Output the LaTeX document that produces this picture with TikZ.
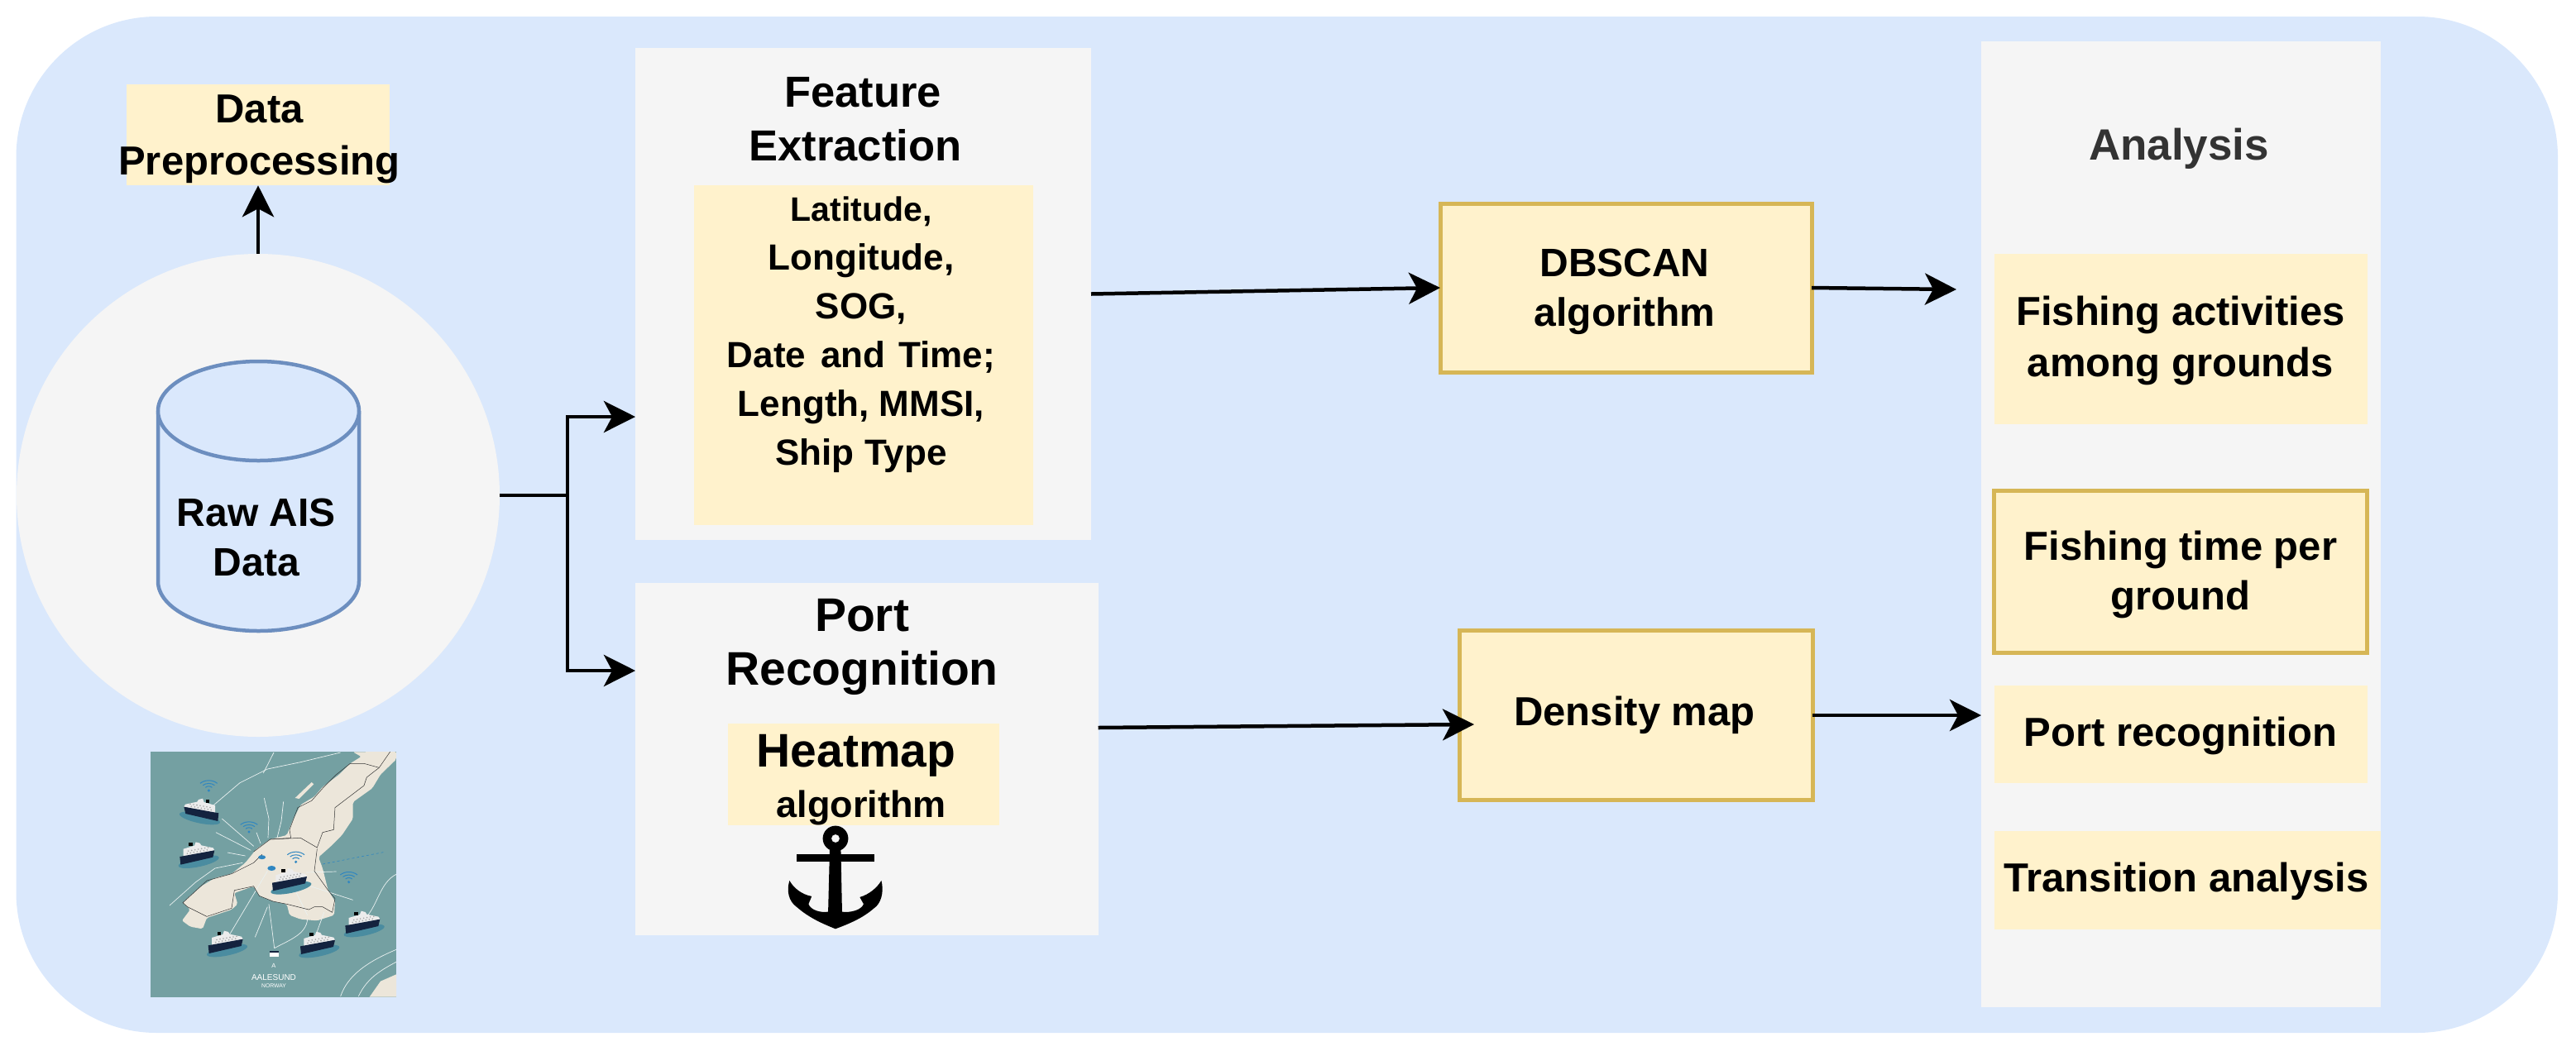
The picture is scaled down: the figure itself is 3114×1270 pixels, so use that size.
\documentclass[tikz,border=0pt]{standalone}
\usepackage{fontspec}
\setmainfont{Liberation Sans}
\usetikzlibrary{arrows.meta}
\definecolor{sheet}{HTML}{DAE8FC}
\definecolor{panelgrey}{HTML}{F5F5F5}
\definecolor{cream}{HTML}{FFF2CC}
\definecolor{creamedge}{HTML}{D6B656}
\definecolor{cylinderedge}{HTML}{6C8EBF}
\definecolor{seawater}{HTML}{74A0A2}
\definecolor{landfill}{HTML}{ECE6DA}
\definecolor{hullnavy}{HTML}{14233F}
\definecolor{wakeblue}{HTML}{4A8CA0}
\definecolor{signalblue}{HTML}{2F86C1}
\newcommand{\fs}[2]{\fontsize{#1}{#2}\selectfont\bfseries}

% A vessel with its wake, on the map inset
\newcommand{\vessel}[3]{%
  \begin{scope}[shift={(#1,#2)},xscale=#3]
    \fill[wakeblue,rotate=12] (0,27) ellipse [x radius=25pt,y radius=6pt];
    \fill[white!85!gray] (-50,8) -- (-50,-20) -- (-10,-32) -- (-5,-45) -- (10,-41) -- (15,-33) -- (58,-24) -- (63,-15) -- cycle;
    \fill[hullnavy] (-63,8) -- (63,-15) -- (57,10) -- (-60,37) -- cycle;
    \fill[black] (-30,-42) rectangle (-16,-30);
    \foreach \u in {-36,-24,...,36} {
      \fill[gray!70] (\u,{-10-\u*0.18}) circle [radius=0.9pt];
      \fill[gray!70] (\u+4,{-19-\u*0.18}) circle [radius=0.9pt];
    }
  \end{scope}}
% A wifi signal mark above its dot
\newcommand{\signal}[2]{%
  \begin{scope}[shift={(#1,#2)}]
    \fill[signalblue] (0,0) circle [radius=1.7pt];
    \draw[signalblue,line width=1pt] (-12,-11) .. controls (-6,-17) and (6,-17) .. (12,-11);
    \draw[signalblue,line width=1pt] (-21,-19) .. controls (-10,-28) and (10,-28) .. (21,-19);
    \draw[signalblue,line width=1pt] (-31,-26) .. controls (-14,-40) and (14,-40) .. (31,-26);
  \end{scope}}

\tikzset{
  fillbox/.style={rectangle,fill=cream,inner sep=0pt,outer sep=0pt},
  edgebox/.style={fillbox,draw=creamedge,line width=5pt},
  panel/.style={rectangle,fill=panelgrey,inner sep=0pt,outer sep=0pt},
  lab/.style={anchor=base,inner sep=0pt,outer sep=0pt,align=center,text=black},
  flow/.style={draw=black,line width=4.5pt,-{Stealth[length=38pt,width=38pt,inset=10pt]}},
  plainflow/.style={draw=black,line width=4.5pt},
  mapline/.style={white!85!seawater,line width=0.7pt},
  coast/.style={black!80,line width=0.5pt},
}

\begin{document}
\begin{tikzpicture}[x=1pt,y=-1pt]
\useasboundingbox (0,0) rectangle (3114,1270);

% backing sheet
\fill[sheet,rounded corners=170pt] (19.5,20) rectangle (3092,1249);

% source circle with the data store
\node[circle,fill=panelgrey,inner sep=0pt,outer sep=0pt,minimum size=584pt] (source) at (312,599) {};
\draw[cylinderedge,line width=4.5pt,fill=sheet]
  (191,497) -- (191,703) arc [start angle=180,end angle=360,x radius=121.5pt,y radius=60pt] -- (434,497);
\draw[cylinderedge,line width=4.5pt,fill=sheet] (312.5,497) ellipse [x radius=121.5pt,y radius=60pt];
\node[lab,font=\fs{48}{60}] (rawais) at (310,696) {Raw AIS\\Data};

% preprocessing box
\node[fillbox,minimum width=318pt,minimum height=122.5pt] (prep) at (312,163) {};
\node[lab,font=\fs{49}{63}] (preptext) at (313.5,211) {Data\\Preprocessing};

% feature extraction panel
\node[panel,minimum width=551pt,minimum height=595pt] (feature) at (1043.5,355.5) {};
\node[lab,font=\fs{52.5}{65}] (featuretitle) at (1034,194) {\hspace*{18pt}Feature\\Extraction};
\node[fillbox,minimum width=410.5pt,minimum height=411pt] (featurelist) at (1043.75,429.5) {};
\node[lab,font=\fs{44}{59}] (featuretext) at (1041,562)
  {{\fontsize{41}{59}\selectfont Latitude,}\\Longitude,\\SOG,\\Date\hspace{18pt}and\hspace{16pt}Time;\\Length, MMSI,\\Ship Type};

% port recognition panel
\node[panel,minimum width=560pt,minimum height=426pt] (port) at (1048,918) {};
\node[lab,font=\fs{57}{65}] (porttitle) at (1042,828) {Port\\Recognition};
\node[fillbox,minimum width=328pt,minimum height=123pt] (heatbox) at (1044,936.5) {};
\node[lab,font=\fs{57}{57}] (heattitle) at (1035,927) {Heatmap};
\node[lab,font=\fs{45}{50}] (heatalgo) at (1041,988) {algorithm};

% anchor emblem
\fill[even odd rule,black] (1010,1014) circle [radius=15.4pt] (1010,1014) circle [radius=5pt];
\fill[black] (963,1033) rectangle (1057,1042);
\begin{scope}[x=0.3827pt,y=-0.3333pt,shift={(760pt,-680pt)}]
  \fill[black] (635,1040) -- (670,1040) -- (674,1268)
    .. controls (700,1272) and (735,1262) .. (742,1240) -- (730,1215)
    .. controls (760,1205) and (785,1180) .. (798,1155)
    .. controls (808,1200) and (795,1240) .. (775,1255)
    .. controls (740,1290) and (700,1310) .. (653,1330)
    .. controls (610,1310) and (570,1290) .. (530,1250)
    .. controls (505,1230) and (498,1190) .. (508,1155)
    .. controls (520,1180) and (545,1205) .. (578,1212) -- (568,1240)
    .. controls (575,1262) and (605,1272) .. (630,1268) -- cycle;
\end{scope}

% map inset
\begin{scope}[x=0.33333pt,y=-0.33333pt,shift={(150pt,-880pt)}]
  \clip (96,87) rectangle (987,977);
  \fill[seawater] (96,87) rectangle (987,977);
  \fill[landfill,rounded corners=2pt] (830,88) -- (860,105) -- (820,130) -- (780,170) -- (720,215) -- (690,250) -- (640,280)
    -- (610,340) -- (590,390) -- (530,405) -- (480,440) -- (440,490) -- (390,530) -- (330,545) -- (280,575)
    -- (240,610) -- (213,635) -- (240,660) -- (210,700) -- (240,722) -- (285,730) -- (300,690) -- (390,660)
    -- (412,640) -- (400,600) -- (470,575) -- (490,610) -- (540,630) -- (590,640) -- (600,680) -- (640,695)
    -- (700,700) -- (762,680) -- (765,630) -- (740,590) -- (720,510) -- (705,470) -- (750,430) -- (790,390)
    -- (830,330) -- (830,270) -- (900,220) -- (930,170) -- (987,115) -- (987,87) -- cycle;
  \fill[landfill] (987,895) -- (930,920) -- (890,977) -- (987,977) -- cycle;
  \fill[landfill] (620,255) -- (680,198) -- (688,205) -- (635,258) -- cycle;
  \draw[mapline] (320,285) -- (420,200) -- (520,150) -- (640,125) -- (785,90);
  \draw[mapline] (505,165) -- (543,90);
  \draw[mapline] (355,330) -- (470,430);
  \draw[mapline] (333,380) -- (460,445);
  \draw[mapline] (508,255) -- (525,330) -- (522,400);
  \draw[mapline] (578,268) -- (570,340) -- (555,400);
  \draw[mapline] (480,380) -- (495,420);
  \draw[mapline] (375,453) -- (440,465);
  \draw[mapline] (165,645) -- (260,560) -- (330,510) -- (430,490);
  \draw[mapline] (660,525) -- (770,522);
  \draw[mapline] (660,570) -- (830,625);
  \draw[mapline] (618,585) -- (665,680);
  \draw[mapline] (380,755) -- (520,520);
  \draw[mapline] (475,760) -- (520,650);
  \draw[mapline] (525,640) -- (545,800);
  \draw[mapline] (545,800) .. controls (600,770) and (660,750) .. (665,695);
  \draw[mapline] (700,740) -- (725,670);
  \draw[mapline] (880,685) .. controls (920,640) and (930,560) .. (987,532);
  \draw[mapline] (785,975) .. controls (810,900) and (880,850) .. (987,805);
  \draw[mapline] (850,975) .. controls (880,910) and (930,880) .. (987,850);
  \draw[signalblue,line width=0.6pt,dashed] (720,495) -- (940,452);
  \draw[coast] (965,87) -- (925,145) -- (870,130) -- (820,130) -- (770,170) -- (720,220) -- (680,265)
    -- (630,290) -- (600,370) -- (605,400) -- (530,405) -- (470,450);
  \draw[coast] (530,405) -- (640,400) -- (700,435) -- (720,380) -- (760,370) -- (765,290) -- (870,210)
    -- (880,180) -- (925,145);
  \draw[coast] (700,440) -- (690,520) -- (740,590) -- (765,620) -- (755,670) -- (720,650) -- (690,650)
    -- (670,660) -- (590,640) -- (540,630) -- (490,610) -- (470,575) -- (400,590) -- (390,655) -- (300,685)
    -- (230,650) -- (213,635) -- (300,555) -- (390,530) -- (470,490) -- (500,460);
  \fill[signalblue] (500,470) ellipse [x radius=4.5pt,y radius=2.5pt];
  \fill[signalblue] (535,510) ellipse [x radius=5pt,y radius=3pt];
  \vessel{280}{302}{-1}
  \vessel{265}{460}{1}
  \vessel{600}{555}{1}
  \vessel{368}{782}{1}
  \vessel{702}{785}{1}
  \vessel{865}{710}{1}
  \signal{307}{228}
  \signal{453}{378}
  \signal{623}{487}
  \signal{815}{560}
  \fill[white] (529,810) rectangle (560,830);
  \fill[hullnavy] (529,810) rectangle (560,816);
  \node[text=white,font=\fontsize{7.5}{8}\selectfont,inner sep=0pt] (mapmark) at (543,863) {A};
  \node[text=white,font=\fontsize{10}{10}\selectfont,inner sep=0pt] (mapname) at (543,905) {AALESUND};
  \node[text=white,font=\fontsize{6.8}{7}\selectfont,inner sep=0pt] (mapcountry) at (543,935) {NORWAY};
\end{scope}

% algorithm boxes
\node[edgebox,minimum width=449pt,minimum height=204pt] (dbscan) at (1965.5,348) {};
\node[lab,font=\fs{48}{60}] (dbscantext) at (1964,394) {DBSCAN\\algorithm};
\node[edgebox,minimum width=427pt,minimum height=205pt] (density) at (1977.5,865) {};
\node[lab,font=\fs{49}{60}] (densitytext) at (1976,877) {Density map};

% analysis column
\node[panel,minimum width=482.5pt,minimum height=1168pt] (analysis) at (2636.25,634) {};
\node[lab,font=\fs{53}{60},text=black!80] (analysistitle) at (2634,193) {Analysis};
\node[fillbox,minimum width=451pt,minimum height=206.5pt] (activities) at (2636.5,409.75) {};
\node[lab,font=\fs{49}{61.5}] (activitiestext) at (2636,455) {Fishing activities\\among grounds};
\node[edgebox,minimum width=451pt,minimum height=196pt] (fishtime) at (2636,691) {};
\node[lab,font=\fs{49}{60}] (fishtimetext) at (2636,737.5) {Fishing time per\\ground};
\node[fillbox,minimum width=451pt,minimum height=117.5pt] (portrec) at (2636.5,887.75) {};
\node[lab,font=\fs{49}{60}] (portrectext) at (2636,902) {Port recognition};
\node[fillbox,minimum width=466.5pt,minimum height=119pt] (transition) at (2644.25,1064.5) {};
\node[lab,font=\fs{49}{60}] (transitiontext) at (2643,1078) {Transition analysis};

% connector ends that sit away from a box's mid-side
\coordinate (split) at (686,599);
\coordinate (featurein) at (768,504);
\coordinate (portin) at (768,811);
\coordinate (portout) at (1327.5,880);
\coordinate (densityin) at (1782,876);
\coordinate (dbscanout) at (2365,350);

% connectors
\draw[plainflow] (source.east) -- (split);
\draw[flow] (split) |- (featurein);
\draw[flow] (split) |- (portin);
\draw[flow] (source.north) -- (prep.south);
\draw[flow] (feature.east) -- (dbscan.west);
\draw[flow] (portout) -- (densityin);
\draw[flow] (dbscan.east) -- (dbscanout);
\draw[flow] (density.east) -- (density.east -| analysis.west);
\end{tikzpicture}
\end{document}
